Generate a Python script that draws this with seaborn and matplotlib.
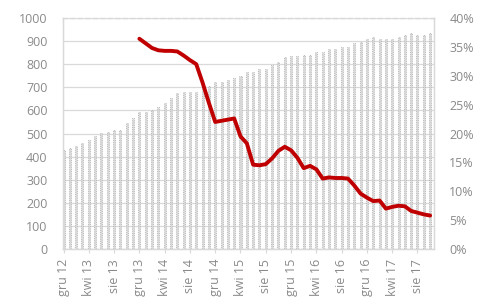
import numpy as np
import pandas as pd
import matplotlib
matplotlib.use("Agg")
import matplotlib.pyplot as plt
import seaborn as sns

# monthly data, Dec 2012 - Oct 2017
month_names = ["sty", "lut", "mar", "kwi", "maj", "cze",
               "lip", "sie", "wrz", "paź", "lis", "gru"]
months = ["gru 12"] + [f"{m} {y}" for y in range(13, 18) for m in month_names][:58]

counts = [428, 436, 446, 457, 472, 489, 501, 505, 515, 515,
          544, 568, 594, 594, 602, 613, 630, 652, 674, 681,
          681, 681, 703, 707, 724, 724, 732, 742, 750, 767,
          768, 778, 778, 797, 811, 830, 837, 837, 840, 840,
          854, 854, 864, 864, 873, 873, 890, 898, 909, 918,
          909, 909, 909, 918, 926, 934, 926, 926, 934]

# share line starts in Dec 2013
share_start = "gru 13"
share = [36.4, 35.6, 34.8, 34.4, 34.3, 34.3, 34.2, 33.5, 32.7, 32.0,
         28.8, 25.3, 22.0, 22.2, 22.4, 22.6, 19.5, 18.3, 14.6, 14.5,
         14.7, 15.7, 17.0, 17.7, 17.1, 15.8, 14.0, 14.4, 13.8, 12.2,
         12.4, 12.3, 12.3, 12.2, 11.0, 9.6, 8.9, 8.3, 8.4, 7.0,
         7.3, 7.5, 7.4, 6.6, 6.3, 6.0, 5.8]

df = pd.DataFrame({"month": months, "count": counts})
df["pos"] = np.arange(len(df))
start = months.index(share_start)
line_df = pd.DataFrame({"pos": df["pos"].iloc[start:start + len(share)].values,
                        "share": share})

sns.set_style("white")
plt.rcParams["font.family"] = ["Open Sans", "DejaVu Sans"]
grey_txt = "#8a8a8a"
grid_c = "#d9d9d9"

fig = plt.figure(figsize=(4.8, 2.99), dpi=100)
ax = fig.add_axes([0.131, 0.167, 0.773, 0.773])

sns.barplot(data=df, x="pos", y="count", ax=ax, color="#d8d8d8",
            width=0.32, native_scale=True, edgecolor="#ababab",
            linewidth=0.6, linestyle=":", saturation=1)

ax.set_ylim(0, 1000)
ax.set_yticks(range(0, 1001, 100))
ax.set_xlim(-0.1, 58.6)
ax.yaxis.grid(True, color=grid_c, linewidth=0.9)
ax.set_axisbelow(True)
ticks = list(range(0, len(months), 4))
ax.set_xticks(ticks)
ax.set_xticklabels([months[i] for i in ticks], rotation=90)
ax.set_xlabel("")
ax.set_ylabel("")

ax2 = ax.twinx()
sns.lineplot(data=line_df, x="pos", y="share", ax=ax2, color="#c00000",
             linewidth=2.8, solid_joinstyle="round", solid_capstyle="round")
ax2.set_ylim(0, 40)
ax2.set_yticks(range(0, 41, 5))
ax2.set_yticklabels([f"{v}%" for v in range(0, 41, 5)])
ax2.set_ylabel("")
ax2.set_xlim(-0.1, 58.6)

for a in (ax, ax2):
    for s in a.spines.values():
        s.set_color(grid_c)
        s.set_linewidth(0.9)
    a.spines["top"].set_linestyle((0, (3, 3)))

ax.tick_params(axis="y", length=0, pad=11, labelsize=9, labelcolor=grey_txt)
ax.tick_params(axis="x", length=3, color=grid_c, pad=4, labelsize=9,
               labelcolor=grey_txt, bottom=True)
ax2.tick_params(axis="y", length=0, pad=11, labelsize=9, labelcolor=grey_txt)

fig.savefig("out.png", dpi=100)
